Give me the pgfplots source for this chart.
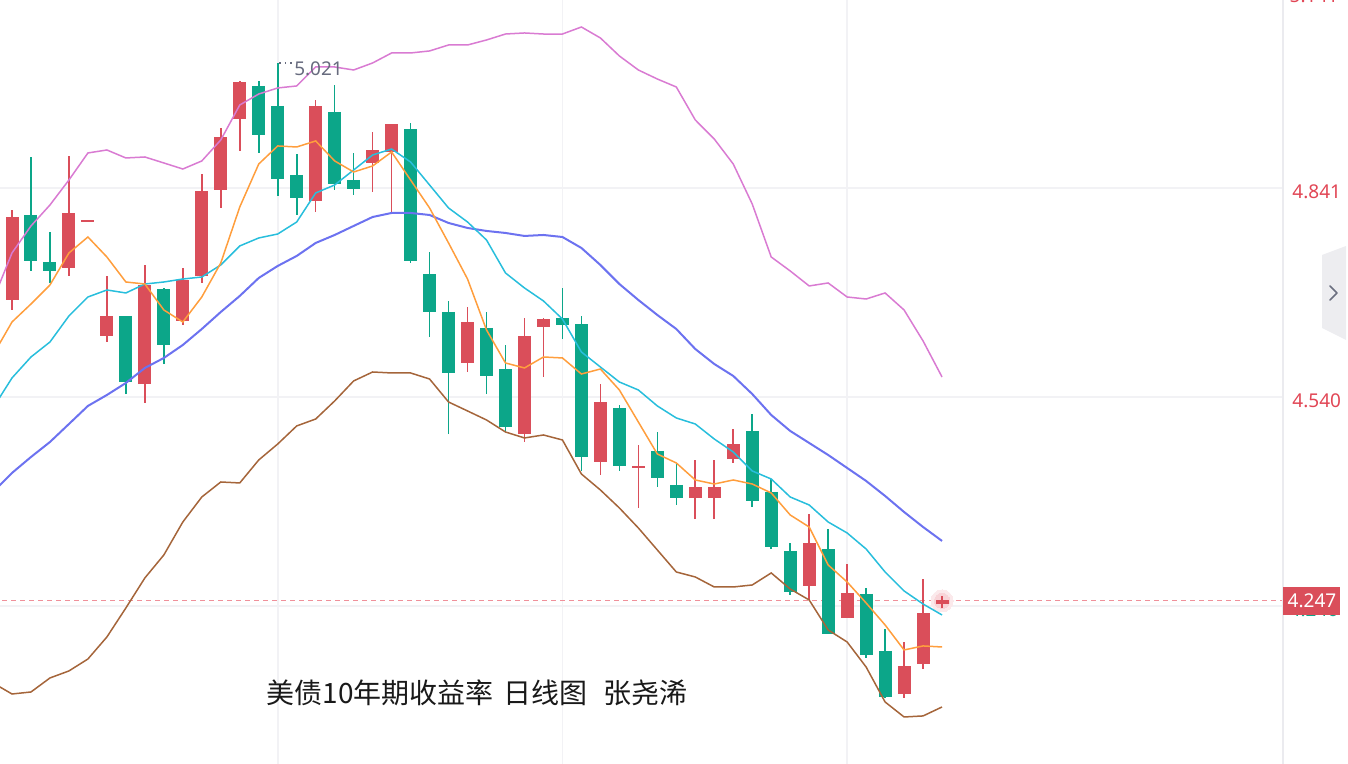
\documentclass[border=0pt]{standalone}
\usepackage{pgfplots}
\pgfplotsset{compat=1.18}
\usepackage{pgfplotstable}
\usepackage{fontspec}
\setmainfont{Noto Sans}
\newfontfamily\cjk{Noto Sans CJK SC}
\definecolor{cred}{HTML}{DA4E5A}
\definecolor{cgreen}{HTML}{0CA689}
\definecolor{tickred}{HTML}{E14655}
\definecolor{cpink}{HTML}{D97BD2}
\definecolor{ccyan}{HTML}{28BEDC}
\definecolor{corange}{HTML}{FF9E3D}
\definecolor{cblue}{HTML}{6C72F0}
\definecolor{cbrown}{HTML}{A5653A}
\definecolor{gridc}{HTML}{F2F2F5}
\definecolor{caxis}{HTML}{EBEBEF}
\definecolor{cdash}{HTML}{F0909A}
\definecolor{clabel}{HTML}{676B7E}
\definecolor{ctab}{HTML}{EDEDF0}
\definecolor{cchev}{HTML}{6B6F80}
\definecolor{cglow}{HTML}{F6C9CE}

\pgfplotstableread{
i o h l c
1 4.6797 4.8093 4.6653 4.7992
4 4.7258 4.8871 4.7143 4.8050
5 4.7920 4.7949 4.7920 4.7949
6 4.6279 4.7143 4.6192 4.6567
8 4.5587 4.7301 4.5314 4.7013
10 4.6495 4.7258 4.6437 4.7085
11 4.7143 4.8611 4.7042 4.8367
12 4.8381 4.9274 4.8122 4.9144
13 4.9403 4.9951 4.8943 4.9936
17 4.8223 4.9677 4.8064 4.9591
20 4.8770 4.9216 4.8352 4.8957
21 4.8928 4.9331 4.8050 4.9331
25 4.5890 4.6696 4.5760 4.6480
28 4.4867 4.6538 4.4752 4.6279
29 4.6408 4.6538 4.5688 4.6523
32 4.4464 4.5587 4.4277 4.5328
34 4.4378 4.4709 4.3802 4.4407
37 4.3946 4.4493 4.3643 4.4104
38 4.3946 4.4493 4.3643 4.4104
39 4.4507 4.4939 4.4450 4.4723
43 4.2679 4.3715 4.2477 4.3298
45 4.2218 4.2995 4.2218 4.2578
48 4.1123 4.1872 4.1066 4.1527
49 4.1555 4.2779 4.1483 4.2290
50 4.2415 4.2530 4.2360 4.2475
}\up

\pgfplotstableread{
i o h l c
2 4.8021 4.8856 4.7215 4.7359
3 4.7344 4.7776 4.7042 4.7215
7 4.6567 4.6567 4.5443 4.5616
9 4.6955 4.6970 4.5875 4.6149
14 4.9879 4.9951 4.8914 4.9173
15 4.9591 5.0210 4.8295 4.8539
16 4.8597 4.8899 4.8021 4.8266
18 4.9504 4.9893 4.8381 4.8467
19 4.8525 4.8914 4.8309 4.8395
22 4.9259 4.9346 4.7330 4.7359
23 4.7171 4.7488 4.6264 4.6624
24 4.6624 4.6783 4.4867 4.5746
26 4.6394 4.6624 4.5443 4.5703
27 4.5803 4.6149 4.4896 4.4968
30 4.6538 4.6970 4.6235 4.6437
31 4.6451 4.6567 4.4335 4.4536
33 4.5242 4.5285 4.4335 4.4407
35 4.4623 4.4896 4.4104 4.4234
36 4.4133 4.4450 4.3845 4.3946
40 4.4911 4.5155 4.3816 4.3903
41 4.4032 4.4219 4.3211 4.3240
42 4.3183 4.3298 4.2549 4.2592
44 4.3211 4.3499 4.1987 4.1987
46 4.2563 4.2650 4.1642 4.1685
47 4.1743 4.2059 4.1066 4.1080
}\down

\pgfplotstableread{
i pink cyan orange blue brown
0 4.6797 4.5242 4.6005 4.4032 4.1282
1 4.7474 4.5674 4.6480 4.4306 4.1123
2 4.7863 4.5976 4.6739 4.4536 4.1152
3 4.8165 4.6192 4.7013 4.4752 4.1354
4 4.8525 4.6567 4.7474 4.5011 4.1455
5 4.8914 4.6840 4.7704 4.5271 4.1627
6 4.8957 4.6941 4.7416 4.5429 4.1944
7 4.8842 4.6898 4.7056 4.5602 4.2362
8 4.8856 4.7027 4.7027 4.5818 4.2794
9 4.8770 4.7056 4.6653 4.5962 4.3125
10 4.8683 4.7099 4.6480 4.6149 4.3600
11 4.8799 4.7128 4.6840 4.6379 4.3960
12 4.9101 4.7301 4.7330 4.6624 4.4176
13 4.9605 4.7575 4.8136 4.6855 4.4162
14 4.9763 4.7690 4.8755 4.7114 4.4493
15 4.9850 4.7747 4.9015 4.7287 4.4723
16 4.9879 4.7920 4.9000 4.7431 4.4983
17 5.0152 4.8338 4.9087 4.7618 4.5083
18 5.0152 4.8453 4.8799 4.7733 4.5343
19 5.0109 4.8669 4.8640 4.7863 4.5631
20 5.0210 4.8885 4.8727 4.7992 4.5760
21 5.0354 4.8971 4.8928 4.8050 4.5746
22 5.0354 4.8784 4.8525 4.8050 4.5746
23 5.0383 4.8453 4.8122 4.8021 4.5659
24 5.0469 4.8122 4.7618 4.7906 4.5328
25 5.0469 4.7920 4.7099 4.7834 4.5199
26 5.0541 4.7661 4.6365 4.7791 4.5069
27 5.0627 4.7186 4.5890 4.7762 4.4896
28 5.0642 4.6970 4.5818 4.7719 4.4810
29 5.0627 4.6783 4.5976 4.7733 4.4853
30 5.0627 4.6523 4.5962 4.7704 4.4781
31 5.0728 4.6048 4.5731 4.7546 4.4291
32 5.0570 4.5832 4.5803 4.7301 4.4061
33 5.0311 4.5616 4.5501 4.7027 4.3802
34 5.0109 4.5501 4.5040 4.6797 4.3514
35 4.9979 4.5271 4.4579 4.6581 4.3197
36 4.9864 4.5098 4.4450 4.6379 4.2880
37 4.9389 4.5011 4.4205 4.6091 4.2808
38 4.9115 4.4795 4.4147 4.5875 4.2664
39 4.8755 4.4608 4.4205 4.5703 4.2664
40 4.8179 4.4335 4.4147 4.5443 4.2693
41 4.7416 4.4219 4.4018 4.5141 4.2866
42 4.7215 4.3960 4.3701 4.4911 4.2635
43 4.6999 4.3845 4.3528 4.4738 4.2477
44 4.7042 4.3600 4.2981 4.4565 4.2045
45 4.6840 4.3442 4.2736 4.4378 4.1872
46 4.6811 4.3211 4.2434 4.4191 4.1512
47 4.6898 4.2880 4.2117 4.3975 4.1008
48 4.6653 4.2607 4.1757 4.3744 4.0792
49 4.6207 4.2419 4.1815 4.3528 4.0807
50 4.5688 4.2261 4.1800 4.3327 4.0936
}\lines

\begin{document}
\begin{tikzpicture}
\begin{axis}[
  at={(0,0)}, anchor=south west,
  scale only axis, width=641.5pt, height=382pt,
  xmin=0.3678, xmax=67.965, ymin=4.0115, ymax=5.1117,
  axis line style={draw=none},
  clip marker paths=true,
  xtick={15,30,45}, xticklabels={},
  ytick={4.239,4.540,4.841}, yticklabels={,4.540,4.841},
  yticklabel pos=right,
  major tick length=0pt,
  xmajorgrids, ymajorgrids,
  grid style={gridc, line width=0.9pt},
  yticklabel style={font=\fontsize{9.5}{10}\selectfont, text=tickred, anchor=west, inner sep=0pt, xshift=4.5pt, yshift=-2pt},
]
% last price dashed line
\addplot[cdash, line width=0.6pt, dash pattern=on 2.5pt off 2pt, mark=none] coordinates {(0,4.2465) (68,4.2465)};
% glow of last price
\addplot[cglow, only marks, mark=*, mark size=5.5pt, mark options={draw=cglow!40, fill=cglow!40, line width=0pt}] coordinates {(50,4.2465)};
\addplot[cglow, only marks, mark=*, mark size=3.8pt, mark options={draw=cglow!80, fill=cglow!80, line width=0pt}] coordinates {(50,4.2465)};
% up candles (red)
\addplot[cred, line width=0.8pt, mark=none, quiver={u=0, v=\thisrow{h}-\thisrow{l}}] table[x=i, y=l] {\up};
\addplot[cred, line width=6.5pt, mark=none, quiver={u=0, v=\thisrow{c}-\thisrow{o}}] table[x=i, y=o] {\up};
% down candles (green)
\addplot[cgreen, line width=0.8pt, mark=none, quiver={u=0, v=\thisrow{h}-\thisrow{l}}] table[x=i, y=l] {\down};
\addplot[cgreen, line width=6.5pt, mark=none, quiver={u=0, v=\thisrow{c}-\thisrow{o}}] table[x=i, y=o] {\down};
% bands and averages
\addplot[cpink, line width=0.75pt, mark=none] table[x=i, y=pink] {\lines};
\addplot[cbrown, line width=0.75pt, mark=none] table[x=i, y=brown] {\lines};
\addplot[cblue, line width=1pt, mark=none] table[x=i, y=blue] {\lines};
\addplot[ccyan, line width=0.75pt, mark=none] table[x=i, y=cyan] {\lines};
\addplot[corange, line width=0.75pt, mark=none] table[x=i, y=orange] {\lines};
% high annotation
\draw[clabel, dotted, line width=0.8pt] (axis cs:15.08,5.021) -- (axis cs:15.75,5.021);
\node[anchor=west, text=clabel, font=\fontsize{9.5}{10}\selectfont, inner sep=0pt] at (axis cs:15.85,5.0125) {5.021};
\end{axis}
% right axis line
\draw[caxis, line width=1pt] (641.5pt,0pt) -- (641.5pt,382pt);
% top partial label
\node[text=tickred, font=\fontsize{9.5}{10}\selectfont, inner sep=0pt] at (657pt,384pt) {5.141};
% hidden label under the price box
\node[text=cgreen, font=\fontsize{9.5}{10}\selectfont, inner sep=0pt] at (657pt,77pt) {4.246};
% last price box
\fill[cred] (641.5pt,74.5pt) rectangle (670pt,88.5pt);
\node[text=white, font=\fontsize{9.5}{10}\selectfont, inner sep=0pt] at (656pt,81.5pt) {4.247};
% side tab
\fill[ctab] (661pt,254.5pt) -- (673pt,259pt) -- (673pt,212pt) -- (661pt,218pt) -- cycle;
\draw[cchev, line width=0.8pt, line cap=round, line join=round] (665pt,239pt) -- (668.5pt,235.5pt) -- (665pt,232pt);
% title
\node[text=black!90, font=\cjk\fontsize{14}{16}\selectfont, inner sep=0pt] at (238.5pt,35.5pt) {美债10年期收益率\hspace{5pt}日线图\hspace{8pt}张尧浠};
\pgfresetboundingbox
\path[use as bounding box] (0pt,0pt) rectangle (674pt,382pt);
\end{tikzpicture}
\end{document}
